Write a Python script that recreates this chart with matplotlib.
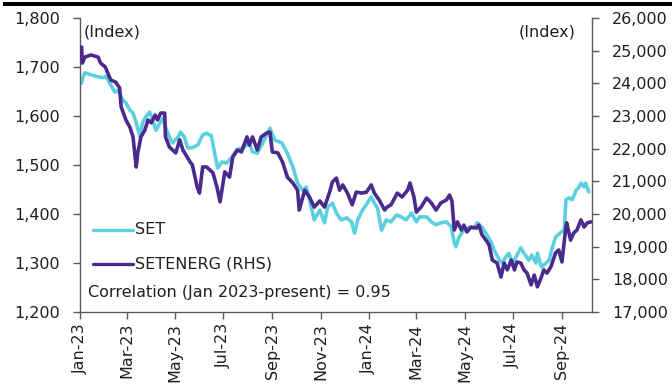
import matplotlib
matplotlib.use("Agg")
import matplotlib.pyplot as plt
import matplotlib.dates as mdates
from matplotlib.ticker import FuncFormatter
from matplotlib.patches import Rectangle
import pandas as pd

# SET index (left axis)
set_dates = [
    "2023-01-03", "2023-01-05", "2023-01-07", "2023-01-15", "2023-01-24", "2023-01-30",
    "2023-02-03", "2023-02-09", "2023-02-14", "2023-02-18", "2023-02-24", "2023-02-28",
    "2023-03-05", "2023-03-09", "2023-03-13", "2023-03-18", "2023-03-21", "2023-03-25",
    "2023-03-30", "2023-04-03", "2023-04-07", "2023-04-12", "2023-04-16", "2023-04-19",
    "2023-04-24", "2023-04-28", "2023-05-05", "2023-05-08", "2023-05-13", "2023-05-17",
    "2023-05-23", "2023-05-30", "2023-06-05", "2023-06-10", "2023-06-14", "2023-06-16",
    "2023-06-20", "2023-06-24", "2023-06-29", "2023-07-05", "2023-07-12", "2023-07-18",
    "2023-07-26", "2023-08-03", "2023-08-07", "2023-08-13", "2023-08-20", "2023-08-29",
    "2023-09-04", "2023-09-13", "2023-09-20", "2023-09-27", "2023-10-03", "2023-10-09",
    "2023-10-14", "2023-10-18", "2023-10-24", "2023-10-31", "2023-11-06", "2023-11-10",
    "2023-11-16", "2023-11-21", "2023-11-27", "2023-12-04", "2023-12-10", "2023-12-14",
    "2023-12-18", "2023-12-24", "2023-12-30", "2024-01-04", "2024-01-08", "2024-01-12",
    "2024-01-17", "2024-01-23", "2024-01-29", "2024-02-05", "2024-02-11", "2024-02-17",
    "2024-02-24", "2024-03-01", "2024-03-05", "2024-03-14", "2024-03-20", "2024-03-26",
    "2024-04-01", "2024-04-08", "2024-04-14", "2024-04-18", "2024-04-20", "2024-04-24",
    "2024-04-30", "2024-05-07", "2024-05-13", "2024-05-17", "2024-05-23", "2024-05-28",
    "2024-06-04", "2024-06-07", "2024-06-14", "2024-06-17", "2024-06-22", "2024-06-26",
    "2024-06-30", "2024-07-05", "2024-07-11", "2024-07-15", "2024-07-21", "2024-07-25",
    "2024-07-30", "2024-08-01", "2024-08-06", "2024-08-12", "2024-08-16", "2024-08-19",
    "2024-08-24", "2024-08-31", "2024-09-04", "2024-09-06", "2024-09-10", "2024-09-14",
    "2024-09-19", "2024-09-22", "2024-09-25", "2024-09-29", "2024-10-01", "2024-10-05",
]
set_values = [
    1667, 1680, 1688, 1684, 1680, 1678,
    1681, 1663, 1649, 1653, 1633, 1627,
    1612, 1606, 1586, 1557, 1586, 1598,
    1608, 1592, 1571, 1586, 1596, 1578,
    1557, 1545, 1557, 1567, 1557, 1535,
    1535, 1541, 1561, 1565, 1561, 1560,
    1525, 1494, 1506, 1504, 1516, 1531,
    1535, 1545, 1527, 1524, 1545, 1575,
    1551, 1545, 1524, 1496, 1463, 1449,
    1455, 1429, 1388, 1408, 1382, 1414,
    1422, 1402, 1388, 1392, 1384, 1361,
    1388, 1408, 1422, 1435, 1422, 1412,
    1367, 1388, 1384, 1398, 1394, 1388,
    1402, 1384, 1394, 1394, 1384, 1378,
    1382, 1384, 1374, 1341, 1333, 1353,
    1367, 1373, 1371, 1382, 1373, 1361,
    1341, 1327, 1306, 1300, 1312, 1320,
    1300, 1312, 1331, 1320, 1306, 1316,
    1300, 1320, 1292, 1300, 1306, 1327,
    1353, 1363, 1367, 1429, 1433, 1429,
    1449, 1453, 1463, 1455, 1463, 1445,
]

# SET Energy & Utilities index (right axis)
energ_dates = [
    "2023-01-03", "2023-01-04", "2023-01-07", "2023-01-15", "2023-01-24", "2023-01-27",
    "2023-02-02", "2023-02-05", "2023-02-09", "2023-02-15", "2023-02-20", "2023-02-22",
    "2023-02-28", "2023-03-05", "2023-03-09", "2023-03-13", "2023-03-15", "2023-03-19",
    "2023-03-24", "2023-03-28", "2023-04-01", "2023-04-06", "2023-04-09", "2023-04-13",
    "2023-04-18", "2023-04-19", "2023-04-24", "2023-04-28", "2023-05-02", "2023-05-07",
    "2023-05-11", "2023-05-15", "2023-05-20", "2023-05-23", "2023-05-29", "2023-06-01",
    "2023-06-05", "2023-06-10", "2023-06-18", "2023-06-23", "2023-06-27", "2023-07-03",
    "2023-07-09", "2023-07-13", "2023-07-19", "2023-07-24", "2023-07-31", "2023-08-03",
    "2023-08-07", "2023-08-13", "2023-08-18", "2023-08-25", "2023-08-29", "2023-09-01",
    "2023-09-08", "2023-09-14", "2023-09-20", "2023-09-27", "2023-10-03", "2023-10-05",
    "2023-10-12", "2023-10-18", "2023-10-24", "2023-10-31", "2023-11-06", "2023-11-12",
    "2023-11-16", "2023-11-21", "2023-11-25", "2023-11-29", "2023-12-05", "2023-12-11",
    "2023-12-16", "2023-12-23", "2023-12-29", "2024-01-04", "2024-01-08", "2024-01-14",
    "2024-01-21", "2024-01-24", "2024-01-29", "2024-02-06", "2024-02-12", "2024-02-19",
    "2024-02-22", "2024-02-27", "2024-03-01", "2024-03-07", "2024-03-14", "2024-03-20",
    "2024-03-26", "2024-04-01", "2024-04-08", "2024-04-12", "2024-04-15", "2024-04-18",
    "2024-04-22", "2024-04-27", "2024-04-30", "2024-05-04", "2024-05-09", "2024-05-16",
    "2024-05-19", "2024-05-23", "2024-05-28", "2024-06-01", "2024-06-05", "2024-06-11",
    "2024-06-16", "2024-06-20", "2024-06-24", "2024-06-29", "2024-07-03", "2024-07-06",
    "2024-07-11", "2024-07-15", "2024-07-19", "2024-07-24", "2024-07-28", "2024-08-01",
    "2024-08-06", "2024-08-09", "2024-08-13", "2024-08-18", "2024-08-24", "2024-08-28",
    "2024-09-01", "2024-09-06", "2024-09-07", "2024-09-12", "2024-09-16", "2024-09-20",
    "2024-09-25", "2024-09-29", "2024-10-03", "2024-10-08",
]
energ_values = [
    25110, 24620, 24800, 24870, 24800, 24620,
    24500, 24320, 24100, 24040, 23860, 23280,
    22880, 22660, 22360, 21440, 21870, 22360,
    22570, 22880, 22790, 23030, 22880, 23090,
    23090, 22360, 22050, 21960, 21870, 22270,
    21960, 21800, 21600, 21500, 20830, 20640,
    21440, 21440, 21260, 20830, 20370, 21290,
    21130, 21740, 21960, 21900, 22360, 22110,
    22360, 21960, 22360, 22480, 22510, 21900,
    21870, 21590, 21130, 20950, 20730, 20120,
    20730, 20520, 20210, 20400, 20210, 20640,
    20980, 21100, 20730, 20890, 20640, 20280,
    20670, 20640, 20670, 20890, 20640, 20430,
    20120, 20210, 20280, 20640, 20520, 20730,
    20950, 20520, 20060, 20210, 20490, 20340,
    20120, 20340, 20430, 20580, 20400, 19510,
    19760, 19510, 19660, 19450, 19600, 19570,
    19660, 19360, 19200, 19050, 18590, 18500,
    18070, 18500, 18290, 18590, 18290, 18530,
    18500, 18290, 18190, 17830, 18130, 17770,
    18070, 18290, 18190, 18380, 18810, 18900,
    18530, 19600, 19730, 19200, 19420, 19510,
    19820, 19600, 19730, 19760,
]

left_ticks = [1200, 1300, 1400, 1500, 1600, 1700, 1800]
right_ticks = [17000, 18000, 19000, 20000, 21000, 22000, 23000, 24000, 25000, 26000]
series_names = ["SET", "SETENERG (RHS)"]
correlation_note = "Correlation (Jan 2023-present) = 0.95"

CYAN = "#5DD0E0"
PURPLE = "#4B2A8E"
AXIS_GREY = "#5a5a5a"
TEXT = "#1f1f1f"
FS = 11.5

plt.rcParams["font.family"] = ["DejaVu Sans"]

fig = plt.figure(figsize=(6.72, 3.9), dpi=100)
fig.patch.set_facecolor("white")

# thin black rule along the top edge
fig.patches.append(Rectangle((3 / 672, 1 - 6 / 390), 1, 4 / 390,
                             transform=fig.transFigure, color="black", lw=0))

ax = fig.add_axes([80 / 672, 78 / 390, 512 / 672, 294 / 390])
ax2 = ax.twinx()

ax.plot(pd.to_datetime(set_dates), set_values, color=CYAN, lw=2.6,
        solid_joinstyle="round", solid_capstyle="round")
ax2.plot(pd.to_datetime(energ_dates), energ_values, color=PURPLE, lw=2.6,
         solid_joinstyle="round", solid_capstyle="round")

ax.set_xlim(pd.Timestamp("2023-01-01"), pd.Timestamp("2024-10-09"))
ax.set_ylim(left_ticks[0], left_ticks[-1])
ax2.set_ylim(right_ticks[0], right_ticks[-1])
ax.set_yticks(left_ticks)
ax2.set_yticks(right_ticks)

thousands = FuncFormatter(lambda v, _: f"{v:,.0f}")
ax.yaxis.set_major_formatter(thousands)
ax2.yaxis.set_major_formatter(thousands)

ax.xaxis.set_major_locator(mdates.MonthLocator(bymonth=[1, 3, 5, 7, 9, 11]))
ax.xaxis.set_major_formatter(mdates.DateFormatter("%b-%y"))
for lbl in ax.get_xticklabels():
    lbl.set_rotation(90)

for a in (ax, ax2):
    a.spines["top"].set_visible(False)
    for s in a.spines.values():
        s.set_color(AXIS_GREY)
        s.set_linewidth(1.0)
    a.tick_params(direction="out", length=5, width=1.0, color=AXIS_GREY,
                  labelsize=FS, labelcolor=TEXT)
ax.tick_params(axis="y", pad=9.5)
ax2.tick_params(axis="y", pad=9.5)
ax.tick_params(axis="x", pad=3)
ax.spines["right"].set_visible(False)
ax2.spines["left"].set_visible(False)
ax2.spines["bottom"].set_visible(False)

ax.text(0.008, 0.952, "(Index)", transform=ax.transAxes, ha="left", va="center",
        fontsize=FS, color=TEXT)
ax2.text(0.967, 0.952, "(Index)", transform=ax.transAxes, ha="right", va="center",
         fontsize=FS, color=TEXT)

# legend drawn by hand in axes coordinates
for y, col, name in [(0.279, CYAN, series_names[0]), (0.163, PURPLE, series_names[1])]:
    ax2.plot([0.026, 0.103], [y, y], transform=ax.transAxes, color=col, lw=2.4,
             solid_capstyle="round", clip_on=False)
    ax2.text(0.107, y, name, transform=ax.transAxes, ha="left", va="center",
             fontsize=FS, color=TEXT)
ax2.text(0.016, 0.065, correlation_note, transform=ax.transAxes, ha="left",
         va="center", fontsize=FS, color=TEXT)

fig.savefig("out.png", dpi=100)
